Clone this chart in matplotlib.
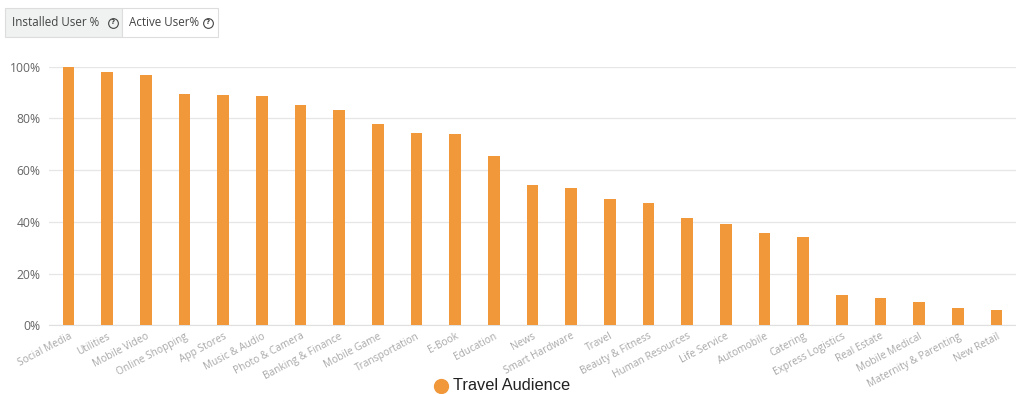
import numpy as np
import matplotlib
matplotlib.use("Agg")
import matplotlib.pyplot as plt
from matplotlib.patches import Rectangle
from matplotlib.lines import Line2D

# app category share of the travel audience (%)
categories = [
    "Social Media", "Utilities", "Mobile Video", "Online Shopping", "App Stores",
    "Music & Audio", "Photo & Camera", "Banking & Finance", "Mobile Game",
    "Transportation", "E-Book", "Education", "News", "Smart Hardware", "Travel",
    "Beauty & Fitness", "Human Resources", "Life Service", "Automobile",
    "Catering", "Express Logistics", "Real Estate", "Mobile Medical",
    "Maternity & Parenting", "New Retail",
]
installed_pct = [
    100.0, 97.9, 96.7, 89.3, 89.1, 88.6, 85.1, 83.3, 77.8, 74.2, 74.1, 65.4,
    54.3, 53.1, 48.7, 47.2, 41.6, 39.2, 35.7, 34.3, 11.6, 10.4, 9.0, 6.6, 5.9,
]
yticks = [0, 20, 40, 60, 80, 100]
series_name = "Travel Audience"
tab_labels = ["Installed User %", "Active User%"]

orange = "#F0983A"
W, H = 1016, 394

fig = plt.figure(figsize=(W / 100, H / 100), dpi=100)
ax = fig.add_axes([49 / W, (H - 325.3) / H, (1016 - 49) / W, (325.3 - 66.7) / H])

x = np.arange(len(categories))
ax.bar(x, installed_pct, width=0.3, color=orange, zorder=3)

ax.set_xlim(-0.5, len(categories) - 0.5)
ax.set_ylim(0, 100)
ax.set_yticks(yticks)
ax.set_yticklabels([f"{v}%" for v in yticks], family="Open Sans", fontsize=8.7, color="#666666")
ax.grid(axis="y", color="#e6e6e6", linewidth=0.9, zorder=0)
ax.set_xticks(x)
ax.set_xticklabels(categories, rotation=28, ha="right", rotation_mode="anchor",
                   family="Open Sans", fontsize=7.3, color="#a8a8a8")
ax.tick_params(axis="both", length=0)
ax.tick_params(axis="x", pad=4)
ax.tick_params(axis="y", pad=6)
for s in ["top", "right", "left"]:
    ax.spines[s].set_visible(False)
ax.spines["bottom"].set_color("#e0e0e0")
ax.set_axisbelow(True)


def px(xp, yp):
    return xp / W, 1 - yp / H


# legend below the axis
lx, ly = px(441, 385.5)
fig.add_artist(Line2D([lx], [ly], transform=fig.transFigure, marker="o", markersize=10,
                      color=orange, linestyle="none"))
fig.text(*px(453, 386), series_name, family="Liberation Sans", fontsize=11.8,
         color="#222222", ha="left", va="center")

# tab switch in the top-left corner
tabs = [(5, 122, "#f0f2f2"), (122, 218, "white")]
for (x0, x1, bg), label in zip(tabs, tab_labels):
    fig.patches.append(Rectangle(px(x0, 37), (x1 - x0) / W, 29 / H, transform=fig.transFigure,
                                 facecolor=bg, edgecolor="#dddddd", linewidth=0.8))
    fig.text(*px(x0 + 7, 22.5), label, family="Open Sans", fontsize=8.4, color="#444444",
             ha="left", va="center")
for cx in (113, 208):
    qx, qy = px(cx, 22.5)
    fig.add_artist(Line2D([qx], [qy], transform=fig.transFigure, marker="o", markersize=7,
                          markerfacecolor="none", markeredgecolor="#444444",
                          markeredgewidth=0.8, linestyle="none"))
    fig.text(qx, qy, "?", family="DejaVu Sans", fontsize=5.2, color="#444444",
             ha="center", va="center", fontweight="bold")

fig.savefig("out.png", dpi=100)
